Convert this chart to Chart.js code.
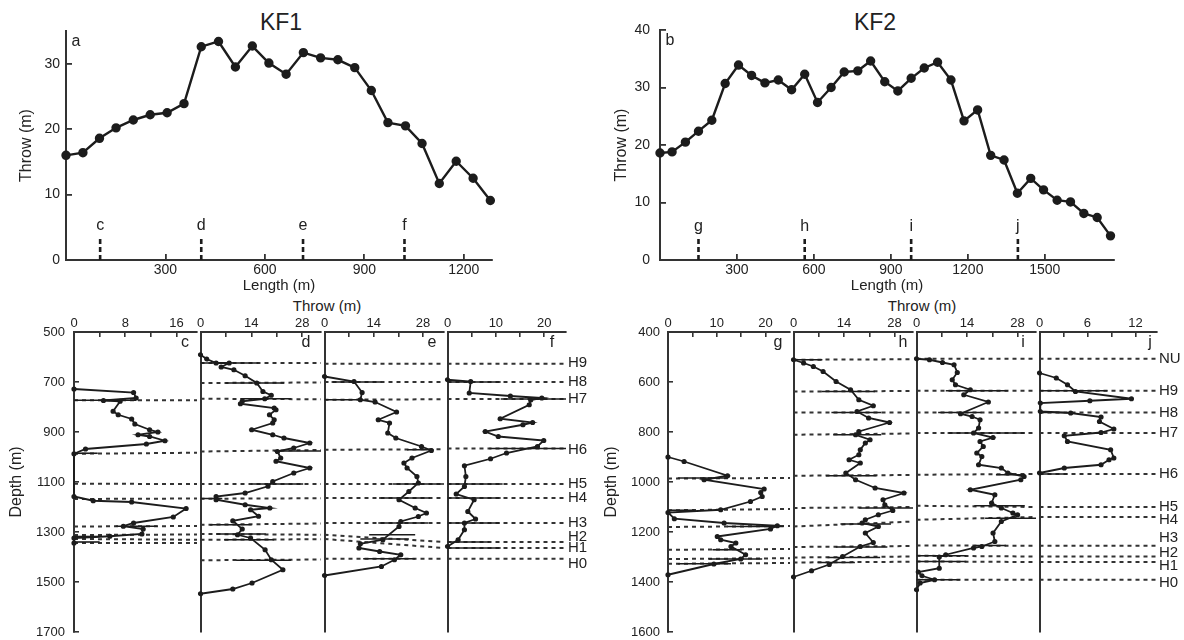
<!DOCTYPE html>
<html>
<head>
<meta charset="utf-8">
<script src="https://cdn.jsdelivr.net/npm/chart.js@4.4.1/dist/chart.umd.min.js"></script>
<style>
  body { margin: 0; background: #fff; width: 1184px; height: 640px; position: relative; overflow: hidden;
         font-family: "Liberation Sans", Arial, Helvetica, sans-serif; color: #222; }
  canvas { position: absolute; }
  .txt { position: absolute; transform: translate(-50%, -50%); white-space: nowrap; }
</style>
</head>
<body>
<div class="txt" style="left:281px;top:22px;font-size:23px">KF1</div>
<div class="txt" style="left:875px;top:22px;font-size:23px">KF2</div>
<div class="txt" style="left:327px;top:305px;font-size:15px">Throw (m)</div>
<div class="txt" style="left:922px;top:305px;font-size:15px">Throw (m)</div>

<canvas id="pa"></canvas><canvas id="pb"></canvas>
<canvas id="pc"></canvas><canvas id="pd"></canvas><canvas id="pe"></canvas><canvas id="pf"></canvas>
<canvas id="pg"></canvas><canvas id="ph"></canvas><canvas id="pi"></canvas><canvas id="pj"></canvas>

<script>
// ---------- throw along strike (top panels) ----------
const kf1Length = [0, 51, 101, 151, 203, 254, 305, 356, 408, 460, 511, 562, 612, 664, 716, 768, 820, 871, 921, 971, 1024, 1074, 1126, 1177, 1228, 1280];
const kf1Throw  = [16.0, 16.4, 18.6, 20.2, 21.4, 22.2, 22.5, 23.9, 32.6, 33.4, 29.5, 32.7, 30.1, 28.4, 31.7, 30.9, 30.6, 29.4, 25.9, 21.0, 20.5, 17.8, 11.7, 15.1, 12.5, 9.1];
const kf1Wells  = ['c', 'd', 'e', 'f'];
const kf1WellAt = [103, 408, 715, 1021];

const kf2Length = [0, 47, 99, 150, 202, 254, 306, 357, 409, 461, 513, 564, 614, 667, 718, 771, 821, 876, 927, 979, 1030, 1082, 1134, 1185, 1238, 1289, 1341, 1393, 1445, 1495, 1548, 1600, 1652, 1704, 1756];
const kf2Throw  = [18.6, 18.8, 20.5, 22.4, 24.3, 30.7, 33.9, 32.1, 30.8, 31.3, 29.6, 32.3, 27.4, 30.0, 32.7, 32.9, 34.6, 31.0, 29.4, 31.6, 33.4, 34.4, 31.3, 24.2, 26.1, 18.2, 17.4, 11.6, 14.2, 12.2, 10.4, 10.1, 8.1, 7.4, 4.2];
const kf2Wells  = ['g', 'h', 'i', 'j'];
const kf2WellAt = [150, 564, 979, 1395];

const lengthTicks1 = [300, 600, 900, 1200];
const lengthTicks2 = [300, 600, 900, 1200, 1500];
const throwTicks1  = [0, 10, 20, 30];
const throwTicks2  = [0, 10, 20, 30, 40];

// ---------- throw vs depth at the wells: [throw, depth] ----------
const cProfile = [[0,728],[9.3,742],[9.7,764],[4.6,774],[7.2,777],[6.1,817],[6.9,831],[9.0,848],[9.5,868],[11.8,891],[13.1,900],[10.0,911],[11.8,918],[14.2,935],[11.3,948],[1.8,968],[0,987],[0,1158],[3.0,1175],[9.0,1180],[17.5,1206],[15.5,1240],[9.3,1264],[7.7,1277],[10.8,1288],[10.6,1308],[5.6,1317],[0,1324],[0,1344]];
const dProfile = [[0,591],[1.7,608],[4.3,624],[7.9,624],[5.7,640],[9.2,651],[12.3,675],[15.5,704],[17.2,738],[19.5,753],[17.7,767],[11.5,777],[11.0,787],[20.3,804],[20.8,811],[19.0,831],[20.3,851],[19.9,864],[14.1,891],[19.9,911],[23.0,924],[30.1,944],[25.7,964],[21.2,978],[22.1,1004],[20.8,1017],[30.1,1044],[25.7,1064],[19.9,1098],[18.6,1117],[12.3,1144],[4.3,1158],[4.3,1171],[12.3,1191],[19.1,1204],[13.8,1211],[16.0,1237],[8.9,1255],[11.5,1288],[10.2,1311],[13.8,1324],[17.8,1371],[19.5,1411],[22.7,1451],[14.2,1504],[8.9,1528],[0,1547]];
const eProfile = [[0,678],[8.4,698],[10.7,742],[10.2,771],[14.4,780],[20.5,820],[15.3,851],[18.5,864],[18.0,904],[20.3,924],[27.6,958],[30.4,974],[24.9,1004],[22.6,1024],[23.5,1044],[26.3,1078],[26.7,1104],[24.0,1138],[21.2,1171],[25.8,1204],[29.0,1224],[26.7,1238],[21.7,1258],[21.2,1278],[16.6,1331],[10.2,1347],[9.8,1364],[15.7,1378],[21.7,1391],[19.9,1411],[16.2,1438],[0,1474]];
const fProfile = [[0,691],[4.8,698],[4.5,744],[13.0,756],[19.5,764],[17.2,772],[16.9,791],[10.9,847],[17.6,862],[15.6,871],[7.8,898],[10.5,918],[19.9,934],[18.6,958],[12.2,984],[8.9,1007],[3.5,1035],[3.8,1078],[3.5,1118],[1.8,1148],[5.5,1171],[4.2,1218],[5.8,1248],[3.5,1264],[3.5,1291],[2.2,1331],[0,1358]];
const gProfile = [[0,900],[3.3,918],[12.2,975],[7.4,991],[19.7,1028],[19.0,1042],[19.3,1058],[16.9,1078],[10.8,1111],[0,1122],[1.3,1147],[11.5,1164],[22.4,1175],[21.0,1188],[10.1,1218],[10.8,1231],[13.9,1244],[12.9,1258],[15.9,1291],[14.9,1308],[9.4,1328],[0,1371]];
const hProfile = [[0,511],[2.8,524],[5.5,538],[8.2,558],[11.8,598],[15.8,631],[18.1,671],[22.1,695],[17.6,718],[20.8,744],[26.6,762],[18.1,798],[17.2,811],[21.2,831],[19.9,844],[18.5,871],[18.1,891],[15.4,911],[18.5,924],[14.5,964],[17.2,991],[22.6,1024],[30.6,1044],[24.8,1071],[25.3,1091],[27.5,1114],[23.5,1131],[19.9,1151],[19.0,1164],[23.5,1178],[19.9,1204],[22.1,1242],[18.5,1258],[13.6,1298],[9.9,1330],[5.0,1355],[0,1380]];
const iProfile = [[0,507],[3.6,511],[7.2,522],[10.4,531],[11.3,562],[9.9,591],[10.8,611],[14.9,631],[13.1,651],[19.9,680],[12.2,727],[15.4,738],[17.6,751],[17.2,784],[15.8,804],[21.2,822],[17.6,838],[18.5,858],[16.7,884],[18.1,898],[17.2,931],[23.5,944],[25.3,964],[29.8,978],[28.9,991],[14.9,1031],[21.7,1051],[20.8,1084],[23.5,1104],[26.7,1124],[28.0,1131],[23.5,1158],[21.2,1204],[21.7,1238],[18.1,1258],[15.8,1264],[8.1,1291],[6.3,1300],[6.3,1345],[0.5,1360],[1.5,1375],[5.0,1391],[1.0,1404],[0,1431]];
const jProfile = [[0,564],[2.1,584],[3.5,611],[4.5,638],[11.5,667],[6.3,675],[0.1,684],[0.1,718],[3.9,724],[7.7,740],[7.5,758],[9.3,788],[7.7,802],[3.1,815],[3.5,838],[8.9,871],[9.3,904],[8.7,911],[7.7,931],[3.1,944],[0,964]];

// ---------- horizons: [depth at left edge, depth at right edge] per panel ----------
const kf1Horizons   = ['H9', 'H8', 'H7', 'H6', 'H5', 'H4', 'H3', 'H2', 'H1', 'H0'];
const kf1LabelDepth = [624, 701, 766, 971, 1107, 1164, 1262, 1318, 1364, 1427];
const cHor = [null, null, [773,773], [987,983], [1107,1108], [1168,1166], [1278,1276], [1312,1310], [1328,1331], [1344,1344]];
const dHor = [[624,624], [704,702], [767,769], [978,972], [1108,1108], [1167,1165], [1271,1266], [1308,1311], [1331,1329], [1413,1410]];
const eHor = [[627,627], [700,700], [771,769], [971,969], [1108,1108], [1164,1164], [1264,1264], [1311,1340], [1328,1364], [1407,1407]];
const fHor = [[627,627], [700,700], [768,768], [966,966], [1108,1108], [1164,1164], [1264,1264], [1340,1340], [1364,1364], [1407,1407]];

const kf2Horizons   = ['NU', 'H9', 'H8', 'H7', 'H6', 'H5', 'H4', 'H3', 'H2', 'H1', 'H0'];
const kf2LabelDepth = [508, 635, 724, 804, 968, 1098, 1151, 1224, 1284, 1335, 1402];
const gHor = [null, null, null, null, [986,984], [1113,1108], [1180,1176], [1271,1268], [1308,1305], [1327,1324], null];
const hHor = [[511,509], [638,636], [722,722], [811,806], [975,972], [1104,1100], [1178,1158], [1260,1256], [1302,1298], [1322,1319], null];
const iHor = [[507,507], [635,635], [722,722], [804,804], [971,968], [1095,1100], [1151,1140], [1254,1255], [1295,1298], [1318,1320], [1391,1391]];
const jHor = [[507,507], [635,635], [722,722], [804,804], [968,968], [1100,1100], [1140,1140], [1255,1255], [1298,1298], [1320,1320], [1391,1391]];

// ---------- throw ranges drawn at horizons: [depth, min, max] ----------
const cBars = [[773,0,9.7], [985,0,3.7], [1277,6.5,13], [1318,0,4], [1340,0,4]];
const dBars = [[624,0,16], [704,7,23], [767,11,25], [976,20.3,33.2], [1108,14,28.3], [1166,0,6], [1271,2.6,14.1], [1308,4.3,18], [1331,6.5,20.3], [1413,9.8,24.9]];
const eBars = [[700,2,16.2], [771,0,10.5], [971,23.5,31], [1108,19.5,34], [1164,15.5,30], [1264,15.3,29.5], [1311,12.7,25.8], [1328,10.2,24], [1407,11,25.8]];
const fBars = [[700,0,11], [768,11,24.5], [966,8.6,24.5], [1108,0,11.4], [1164,0,11], [1264,0,10.8], [1340,0,8.7], [1364,0,11]];
const gBars = [[984,2,12.2], [1113,0,5.4], [1178,12.2,23.7], [1271,9.1,15.2], [1308,8.4,19.3], [1327,2,12.9]];
const hBars = [[511,0,8], [638,7.7,22.6], [722,10.5,24.3], [811,11,24.3], [975,9,23], [1104,18.1,33.1], [1168,13,27], [1260,11.7,26], [1302,9.4,24], [1322,6.7,17]];
const iBars = [[635,8.1,25.3], [722,6,18], [804,8.6,30], [971,22,30], [1095,16,30], [1145,19,33.1], [1254,16,24.8], [1295,0,13.8], [1318,0,13.8], [1391,0,12]];
const jBars = [[635,0,8.5], [722,0,3], [968,0,3.5]];

// ---------- axis ticks ----------
const kf1DepthTicks = [500, 700, 900, 1100, 1300, 1500, 1700];
const kf2DepthTicks = [400, 600, 800, 1000, 1200, 1400, 1600];
const ticks4 = [0, 4, 8, 12, 16], labels4 = [0, 8, 16];
const ticks7 = [0, 7, 14, 21, 28], labels7 = [0, 14, 28];
const ticks5 = [0, 5, 10, 15, 20], labels5 = [0, 10, 20];
const ticks3 = [0, 3, 6, 9, 12],   labels3 = [0, 6, 12];

const INK = '#1c1c1c';
const AXIS = '#333';
Chart.defaults.font.family = '"Liberation Sans", Arial, Helvetica, sans-serif';
Chart.defaults.color = '#222';
const plain = v => String(v);

// small text marks: letters in data units, or panel letters at a chart corner
const notes = {
  id: 'notes',
  afterDatasetsDraw(chart, args, opts) {
    const { ctx, chartArea, scales } = chart;
    ctx.save();
    ctx.fillStyle = '#222';
    ctx.textAlign = 'center';
    ctx.textBaseline = 'middle';
    ctx.font = '16px "Liberation Sans", Arial, sans-serif';
    (opts.items || []).forEach(it => {
      let x, y;
      if (it.corner === 'tl') { x = chartArea.left + it.dx; y = chartArea.top + it.dy; }
      else if (it.corner === 'tr') { x = chartArea.right - it.dx; y = chartArea.top + it.dy; }
      else { x = scales.x.getPixelForValue(it.x); y = scales.y.getPixelForValue(it.y); }
      ctx.fillText(it.t, x, y);
    });
    ctx.restore();
  }
};

function place(id, x, y, w, h) {
  const cv = document.getElementById(id);
  cv.width = w; cv.height = h;
  cv.style.left = x + 'px'; cv.style.top = y + 'px';
  return cv;
}

function line(points, extra) {
  return Object.assign({ data: points, showLine: true, borderColor: INK, backgroundColor: INK,
                         pointRadius: 0, pointHoverRadius: 0 }, extra);
}

// ---------- top panels ----------
function strikePanel(id, o) {
  const cv = place(id, o.x, 0, o.w, 300);
  const ds = [line(o.len.map((v, i) => ({ x: v, y: o.thr[i] })), { borderWidth: 2.4, pointRadius: 3.5, clip: false })];
  o.wellAt.forEach(v => ds.push(line([{ x: v, y: 0 }, { x: v, y: o.mark }], { borderWidth: 2.6, borderDash: [5, 3] })));
  const items = o.wells.map((t, i) => ({ t, x: o.wellAt[i], y: o.mark + 1.8 }));
  items.push({ t: o.letter, corner: 'tl', dx: 10, dy: 11 });
  new Chart(cv, {
    type: 'scatter',
    data: { datasets: ds },
    options: {
      responsive: false, animation: false, events: [],
      layout: { padding: { top: o.top, right: o.w - o.right, left: 0, bottom: 0 } },
      plugins: { legend: { display: false }, tooltip: { enabled: false }, notes: { items } },
      scales: {
        x: {
          type: 'linear', position: 'bottom', min: 0, max: o.xmax,
          afterBuildTicks: s => { s.ticks = o.xticks.map(v => ({ value: v })); },
          ticks: { callback: plain, font: { size: 14 }, padding: 8, color: '#222', maxRotation: 0 },
          grid: { drawOnChartArea: false, tickLength: -6, color: AXIS, lineWidth: 1.8 },
          border: { color: AXIS, width: 2 },
          title: { display: true, text: 'Length (m)', font: { size: 15 }, color: '#222', padding: { top: 0, bottom: 5 } },
          afterFit: s => { s.height = 40; s.paddingLeft = 0; s.paddingRight = 0; }
        },
        y: {
          type: 'linear', position: 'left', min: 0, max: o.ymax,
          afterBuildTicks: s => { s.ticks = o.yticks.map(v => ({ value: v })); },
          ticks: { callback: plain, font: { size: 14 }, padding: o.ypad, color: '#222' },
          grid: { drawOnChartArea: false, tickLength: -6, color: AXIS, lineWidth: 1.8 },
          border: { color: AXIS, width: 2 },
          title: { display: true, text: 'Throw (m)', font: { size: 16 }, color: '#222', padding: { top: o.tpad, bottom: 0 } },
          afterFit: s => { s.width = o.left - o.x; s.paddingTop = 0; s.paddingBottom = 0; }
        }
      }
    },
    plugins: [notes]
  });
}

strikePanel('pa', { x: 0, w: 530, left: 66, right: 492, top: 31, xmax: 1285, ymax: 35,
  len: kf1Length, thr: kf1Throw, wells: kf1Wells, wellAt: kf1WellAt, mark: 3.5,
  xticks: lengthTicks1, yticks: throwTicks1, ypad: 12, tpad: 17, letter: 'a' });
strikePanel('pb', { x: 590, w: 530, left: 660, right: 1090, top: 30, xmax: 1770, ymax: 40,
  len: kf2Length, thr: kf2Throw, wells: kf2Wells, wellAt: kf2WellAt, mark: 4,
  xticks: lengthTicks2, yticks: throwTicks2, ypad: 16, tpad: 22, letter: 'b' });

// ---------- well panels ----------
function wellPanel(id, o) {
  const x0 = o.left - o.lw;
  const w = o.lw + (o.right - o.left) + o.rw;
  const cv = place(id, x0, 300, w, 340);
  const ds = [line(o.prof.map(p => ({ x: p[0], y: p[1] })), { borderWidth: 1.8, pointRadius: 1.7, clip: 3 })];
  o.bars.forEach(b => ds.push(line([{ x: b[1], y: b[0] }, { x: b[2], y: b[0] }], { borderWidth: 1.6 })));
  o.hor.forEach(h => { if (h) ds.push(line([{ x: 0, y: h[0] }, { x: o.max, y: h[1] }], { borderColor: AXIS, borderWidth: 2, borderDash: [4, 4] })); });
  const scales = {
    x: {
      type: 'linear', position: 'top', min: 0, max: o.max,
      afterBuildTicks: s => { s.ticks = o.ticks.map(v => ({ value: v })); },
      ticks: { callback: v => (o.labelled.includes(v) ? String(v) : ''), font: { size: 13 }, padding: 6, color: '#222', maxRotation: 0, autoSkip: false },
      grid: { drawOnChartArea: false, tickLength: -5, color: AXIS, lineWidth: 1.6 },
      border: { color: AXIS, width: 2 },
      afterFit: s => { s.height = 32; s.paddingLeft = 0; s.paddingRight = 0; }
    },
    y: {
      type: 'linear', position: 'left', reverse: true, min: o.dTicks[0], max: o.dTicks[o.dTicks.length - 1],
      afterBuildTicks: s => { s.ticks = o.dTicks.map(v => ({ value: v })); },
      ticks: { display: o.lw > 0, callback: plain, font: { size: 13 }, padding: o.dpad || 13, color: '#222' },
      grid: { drawOnChartArea: false, drawTicks: o.lw > 0, tickLength: -5, color: AXIS, lineWidth: 1.6 },
      border: { color: AXIS, width: 2 },
      title: { display: o.lw > 0, text: 'Depth (m)', font: { size: 16 }, color: '#222', padding: { top: o.tpad || 0, bottom: 0 } },
      afterFit: s => { s.width = o.lw; s.paddingTop = 0; s.paddingBottom = 0; }
    }
  };
  if (o.names) {
    scales.yr = {
      type: 'linear', position: 'right', reverse: true, min: o.dTicks[0], max: o.dTicks[o.dTicks.length - 1],
      afterBuildTicks: s => { s.ticks = o.labelDepth.map(v => ({ value: v })); },
      ticks: { callback: (v, i) => o.names[i], font: { size: 15 }, padding: 2, color: '#222', autoSkip: false },
      grid: { display: false, drawTicks: false }, border: { display: false },
      afterFit: s => { s.width = o.rw; s.paddingTop = 0; s.paddingBottom = 0; }
    };
  }
  new Chart(cv, {
    type: 'scatter',
    data: { datasets: ds },
    options: {
      responsive: false, animation: false, events: [],
      layout: { padding: { top: 0, left: 0, bottom: 8, right: o.names ? 0 : o.rw } },
      plugins: { legend: { display: false }, tooltip: { enabled: false },
                 notes: { items: [{ t: o.letter, corner: 'tr', dx: o.ldx || 12, dy: 11 }] } },
      scales
    },
    plugins: [notes]
  });
}

wellPanel('pc', { left: 74, right: 197, lw: 74, rw: 4, max: 19.2, prof: cProfile, bars: cBars, hor: cHor,
  ticks: ticks4, labelled: labels4, dTicks: kf1DepthTicks, dpad: 14, tpad: 7, letter: 'c' });
wellPanel('pd', { left: 197, right: 321, lw: 0, rw: 4, max: 33.2, prof: dProfile, bars: dBars, hor: dHor,
  ticks: ticks7, labelled: labels7, dTicks: kf1DepthTicks, letter: 'd', ldx: 15 });
wellPanel('pe', { left: 321, right: 444, lw: 0, rw: 4, max: 34, prof: eProfile, bars: eBars, hor: eHor,
  ticks: ticks7, labelled: labels7, dTicks: kf1DepthTicks, letter: 'e' });
wellPanel('pf', { left: 444, right: 566, lw: 0, rw: 30, max: 24.5, prof: fProfile, bars: fBars, hor: fHor,
  ticks: ticks5, labelled: labels5, dTicks: kf1DepthTicks, letter: 'f', ldx: 14,
  names: kf1Horizons, labelDepth: kf1LabelDepth });

wellPanel('pg', { left: 668, right: 790, lw: 78, rw: 4, max: 25, prof: gProfile, bars: gBars, hor: gHor,
  ticks: ticks5, labelled: labels5, dTicks: kf2DepthTicks, dpad: 13, tpad: 12, letter: 'g' });
wellPanel('ph', { left: 790, right: 913, lw: 0, rw: 4, max: 33.1, prof: hProfile, bars: hBars, hor: hHor,
  ticks: ticks7, labelled: labels7, dTicks: kf2DepthTicks, letter: 'h', ldx: 10 });
wellPanel('pi', { left: 913, right: 1036, lw: 0, rw: 4, max: 33.1, prof: iProfile, bars: iBars, hor: iHor,
  ticks: ticks7, labelled: labels7, dTicks: kf2DepthTicks, letter: 'i', ldx: 13 });
wellPanel('pj', { left: 1036, right: 1157, lw: 0, rw: 27, max: 14.7, prof: jProfile, bars: jBars, hor: jHor,
  ticks: ticks3, labelled: labels3, dTicks: kf2DepthTicks, letter: 'j', ldx: 7,
  names: kf2Horizons, labelDepth: kf2LabelDepth });
</script>
</body>
</html>
